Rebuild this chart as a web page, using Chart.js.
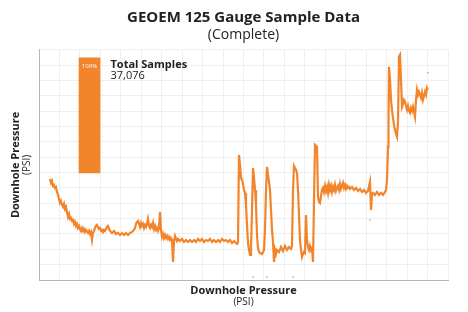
<!DOCTYPE html>
<html lang="en">
<head>
    <meta charset="UTF-8">
    <title>GEOEM 125 Gauge Sample Data</title>
    <script src="https://cdn.jsdelivr.net/npm/chart.js"></script>
    <style>
        html, body { margin: 0; padding: 0; background: #fff; }
        #wrap { width: 468px; height: 312px; }
    </style>
</head>
<body>
    <div id="wrap"><canvas id="chart"></canvas></div>

    <script>
        // sample position along the record and pressure reading
        const sampleX = [
            11,12,13,14,15,16,17,18,19,20,
            21,22,23,24,25,26,27,28,29,30,
            31,32,33,34,35,36,37,38,39,40,
            41,42,43,44,45,46,47,49,50,51,
            52,53,54,55,56,57,58,59,60,61,
            62,63,64,65,66,67,68,69,70,71,
            72,73,75,77,79,81,83,85,87,89,
            91,93,95,96,97,98,99,100,101,102,
            103,104,105,106,107,108,109,110,111,112,
            113,114,115,116,117,118,119,120,121,122,
            123,124,125,126,127,128,129,130,131,132,
            133,134,135,136,137,138,139,141,143,145,
            147,149,151,153,155,157,159,161,163,165,
            167,169,171,173,175,177,179,181,183,185,
            187,189,191,193,195,197,198,199,200,201,
            202,203,204,205,206,207,208,209,210,211,
            212,213,214,215,216,217,218,219,220,221,
            223,225,226,227,228,229,230,231,232,233,
            234,235,236,237,238,240,242,244,246,248,
            250,252,253,254,255,256,257,258,259,260,
            261,262,263,264,265,266,267,268,269,270,
            271,272,273,274,275,276,277,278,279,280,
            281,282,283,284,285,286,287,288,289,290,
            291,292,293,294,295,296,297,298,299,300,
            301,302,303,304,305,306,307,308,309,310,
            311,313,315,317,319,321,323,325,327,329,
            331,332,333,334,336,338,340,342,344,346,
            347,348,349,349.5,350,351,352,353,354,355,
            356,357,358,359,360,361,362,363,364,365,
            366,367,368,369,370,371,372,373,374,375,
            376,377,378,379,380,381,382,383,384,385,
            386,387,388,389
        ];
        const pressure = [
            101,97,99,94,95,92,93,88,85,81,
            77,79,75,73,76,71,73,68,63,66,
            61,62,59,60,56,58,54,56,52,54,
            51,49,52,49,51,48,50,47,49,46,
            48,40,47,49,52,54,55,53,51,52,
            49,50,48,50,49,51,53,54,51,49,
            48,47,49,46,47,45,47,45,47,45,
            47,48,50,52,56,58,59,56,53,57,
            54,56,52,55,53,56,61,54,52,55,
            53,57,51,54,50,52,49,52,68,50,
            43,46,42,45,42,44,41,43,40,42,
            40,18,39,44,41,39,41,39,41,38,
            40,38,40,38,40,38,41,39,41,38,
            40,39,41,38,40,38,40,38,41,39,
            40,38,40,37,39,37,36,38,125,115,
            102,100,96,90,87,75,55,37,30,25,
            32,70,112,102,90,75,45,32,28,27,
            26,30,50,90,113,105,98,90,70,50,
            38,18,30,26,30,28,33,29,34,30,
            33,31,34,90,114,112,110,107,90,65,
            40,30,23,26,28,27,65,40,33,30,
            34,30,32,18,80,135,134,133,83,78,
            77,84,90,92,88,94,89,93,87,95,
            90,94,88,93,90,95,89,92,94,90,
            96,91,94,97,92,95,91,94,92,93,
            91,93,90,92,89,91,88,90,87,89,
            98,70,86,87,85,88,85,87,85,88,
            90,100,133,160,213,200,180,170,162,155,
            150,146,143,158,223,225,200,173,176,180,
            178,174,170,174,169,167,172,169,173,168,
            163,180,190,185,188,185,182,187,180,184,
            188,185,192,190
        ];
        // stray samples plotted away from the main trace
        const strayX = [214, 228, 254, 389, 331];
        const strayPSI = [3, 3, 3, 207, 60];

        // "Total Samples" inset column (floating range on the pressure axis)
        const insetX = [50.5];
        const insetRange = [[107, 222]];
        const insetPercent = ['100%'];
        const totalSamples = '37,076';

        const orange = '#f2842b';

        const annotate = {
            id: 'annotate',
            afterDraw(chart) {
                const ctx = chart.ctx;
                const a = chart.chartArea;
                ctx.save();
                ctx.fillStyle = '#222';
                ctx.textAlign = 'center';
                ctx.textBaseline = 'middle';
                // x axis title
                const cx = (a.left + a.right) / 2;
                ctx.font = 'bold 11px "Open Sans"';
                ctx.fillText('Downhole Pressure', cx, a.bottom + 11);
                ctx.font = '10px "Open Sans"';
                ctx.fillText('(PSI)', cx, a.bottom + 22);
                // y axis title
                const cy = (a.top + a.bottom) / 2;
                ctx.translate(16, cy);
                ctx.rotate(-Math.PI / 2);
                ctx.font = 'bold 11px "Open Sans"';
                ctx.fillText('Downhole Pressure', 0, 0);
                ctx.font = '10px "Open Sans"';
                ctx.fillText('(PSI)', 0, 11);
                ctx.restore();

                // inset labels, placed from the bar element
                const bar = chart.getDatasetMeta(2).data[0];
                if (!bar) return;
                ctx.save();
                ctx.fillStyle = '#fff';
                ctx.textAlign = 'center';
                ctx.textBaseline = 'middle';
                ctx.font = '6px "Open Sans"';
                ctx.fillText(insetPercent[0], bar.x, bar.y + 8);
                ctx.fillStyle = '#222';
                ctx.textAlign = 'left';
                ctx.font = 'bold 11px "Open Sans"';
                ctx.fillText('Total Samples', bar.x + 21, bar.y + 7);
                ctx.font = '11px "Open Sans"';
                ctx.fillText(totalSamples, bar.x + 21, bar.y + 18);
                ctx.restore();
            }
        };

        new Chart(document.getElementById('chart'), {
            type: 'line',
            data: {
                datasets: [
                    {
                        data: sampleX.map((x, i) => ({ x: x, y: pressure[i] })),
                        borderColor: orange,
                        borderWidth: 2.2,
                        pointRadius: 0,
                        tension: 0
                    },
                    {
                        type: 'scatter',
                        data: strayX.map((x, i) => ({ x: x, y: strayPSI[i] })),
                        backgroundColor: orange,
                        borderWidth: 0,
                        pointRadius: 0.8
                    },
                    {
                        type: 'bar',
                        data: insetX.map((x, i) => ({ x: x, y: insetRange[i] })),
                        backgroundColor: orange,
                        barThickness: 21
                    }
                ]
            },
            options: {
                responsive: true,
                maintainAspectRatio: false,
                animation: false,
                layout: { padding: { left: 39, right: 20, top: 1, bottom: 32 } },
                plugins: {
                    legend: { display: false },
                    tooltip: { enabled: false },
                    title: {
                        display: true,
                        text: 'GEOEM 125 Gauge Sample Data',
                        color: '#222',
                        font: { family: '"Open Sans"', size: 15, weight: 'bold' },
                        padding: { top: 8, bottom: 0 }
                    },
                    subtitle: {
                        display: true,
                        text: '(Complete)',
                        color: '#222',
                        font: { family: '"Open Sans"', size: 14 },
                        padding: { top: 0, bottom: 6 }
                    }
                },
                scales: {
                    x: {
                        type: 'linear',
                        min: 0,
                        max: 409,
                        offset: false,
                        ticks: { display: false, stepSize: 409 / 20 },
                        grid: { color: '#efefef', drawTicks: false, offset: false },
                        border: { color: '#b5b5b5' }
                    },
                    y: {
                        min: 0,
                        max: 230,
                        ticks: { display: false, stepSize: 230 / 15 },
                        grid: { color: '#efefef', drawTicks: false },
                        border: { color: '#b5b5b5' }
                    }
                }
            },
            plugins: [annotate]
        });
    </script>
</body>
</html>
